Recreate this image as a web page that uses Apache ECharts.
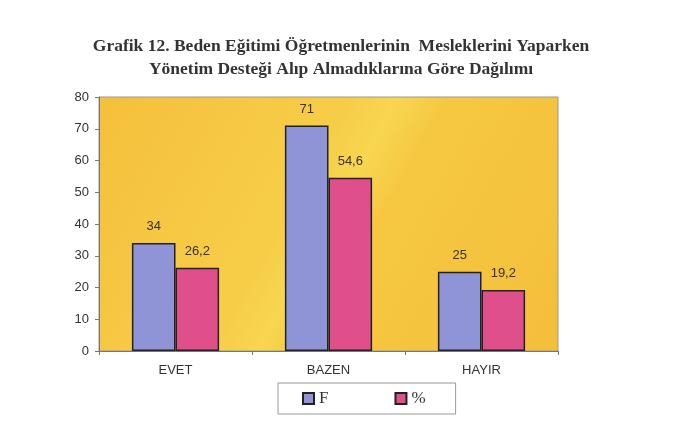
<!DOCTYPE html>
<html>
<head>
<meta charset="utf-8">
<script src="https://cdn.jsdelivr.net/npm/echarts@6/dist/echarts.min.js"></script>
<style>
  html, body { margin: 0; padding: 0; background: #fff; }
  #main { width: 674px; height: 427px; }
</style>
</head>
<body>
<div id="main"></div>
<script>
var categories = ['EVET', 'BAZEN', 'HAYIR'];
var fValues = [34, 71, 25];
var pctValues = [26.2, 54.6, 19.2];
var pctLabels = ['26,2', '54,6', '19,2'];

var chart = echarts.init(document.getElementById('main'), null, { renderer: 'canvas' });

var option = {
  backgroundColor: '#fff',
  animation: false,
  title: {
    text: 'Grafik 12. Beden Eğitimi Öğretmenlerinin  Mesleklerini Yaparken\nYönetim Desteği Alıp Almadıklarına Göre Dağılımı',
    left: 336,
    top: 30,
    textAlign: 'center',
    textStyle: {
      fontFamily: 'Liberation Serif',
      fontWeight: 'bold',
      fontSize: 17.5,
      lineHeight: 23,
      color: '#333'
    }
  },
  legend: {
    data: ['F', '%'],
    icon: 'rect',
    left: 278,
    top: 383,
    width: 180,
    padding: [7, 30, 7, 24],
    itemGap: 66,
    itemWidth: 11,
    itemHeight: 11,
    borderColor: '#999',
    borderWidth: 1,
    textStyle: { fontFamily: 'Liberation Serif', fontSize: 17, color: '#333' }
  },
  grid: {
    left: 99,
    right: 116,
    top: 97,
    bottom: 76,
    show: true,
    backgroundColor: new echarts.graphic.LinearGradient(0, 0, 1, 1, [
      { offset: 0, color: '#f5c03c' },
      { offset: 0.42, color: '#f7cd48' },
      { offset: 0.5, color: '#f8d650' },
      { offset: 0.58, color: '#f6c842' },
      { offset: 1, color: '#f4bf3b' }
    ]),
    borderColor: '#999',
    borderWidth: 1
  },
  xAxis: {
    type: 'category',
    data: categories,
    axisLine: { lineStyle: { color: '#777' } },
    axisTick: { show: true, length: 4, lineStyle: { color: '#777' } },
    axisLabel: { fontFamily: 'Liberation Sans', fontSize: 13, color: '#333', margin: 13 }
  },
  yAxis: {
    type: 'value',
    min: 0,
    max: 80,
    interval: 10,
    splitLine: { show: false },
    axisLine: { show: true, lineStyle: { color: '#777' } },
    axisTick: { show: true, length: 4, lineStyle: { color: '#777' } },
    axisLabel: { fontFamily: 'Liberation Sans', fontSize: 13, color: '#333', margin: 10 }
  },
  series: [
    {
      name: 'F',
      type: 'bar',
      data: fValues,
      barGap: '0%',
      barCategoryGap: '43%',
      itemStyle: { color: '#8e94d6', borderColor: '#222', borderWidth: 1.5 },
      label: {
        show: true,
        position: 'top',
        distance: 10,
        fontFamily: 'Liberation Sans',
        fontSize: 13,
        color: '#333'
      }
    },
    {
      name: '%',
      type: 'bar',
      data: pctValues,
      itemStyle: { color: '#de4f8c', borderColor: '#222', borderWidth: 1.5 },
      label: {
        show: true,
        position: 'top',
        distance: 10,
        fontFamily: 'Liberation Sans',
        fontSize: 13,
        color: '#333',
        formatter: function (p) { return pctLabels[p.dataIndex]; }
      }
    }
  ]
};

chart.setOption(option);
</script>
</body>
</html>
